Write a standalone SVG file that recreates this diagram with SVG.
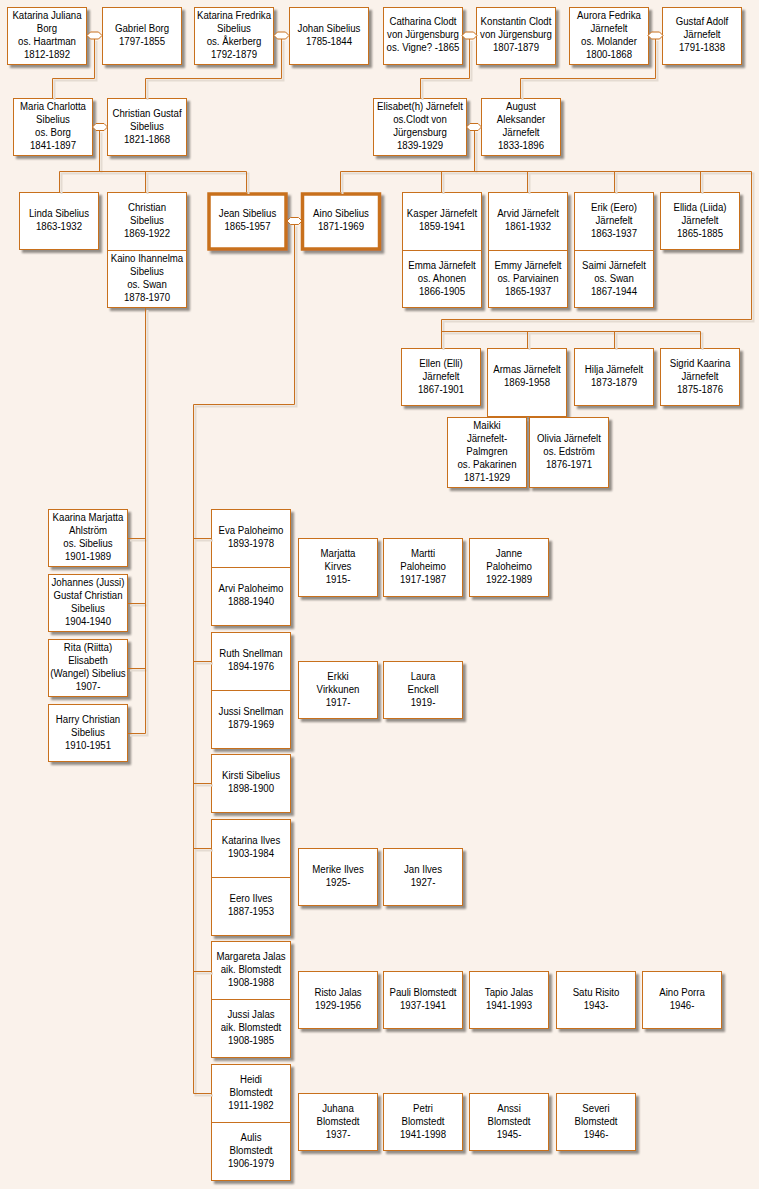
<svg xmlns="http://www.w3.org/2000/svg" width="759" height="1189" viewBox="0 0 759 1189">
<defs>
<style>
.bg{fill:#FAF2EB}
.bx{fill:#fff;stroke:#C8701E;stroke-width:1;filter:url(#ds)}
.bt{fill:#fff;stroke:#C8701E;stroke-width:3.5;filter:url(#ds)}
.dv{fill:none;stroke:#C8701E;stroke-width:1}
.ln{fill:none;stroke:#C8701E;stroke-width:1}
.ls{fill:none;stroke:#E4DBD2;stroke-width:2}
.hx{fill:#fff;stroke:#C8701E;stroke-width:1}
text{font-family:"Liberation Sans",Arial,sans-serif;font-size:11.5px;fill:#000;text-anchor:middle}
</style>
<filter id="ds" x="-10%" y="-10%" width="130%" height="130%">
<feDropShadow dx="3" dy="3" stdDeviation="0.8" flood-color="#6f6a65" flood-opacity="0.75"/>
</filter>
<path id="hex" d="M-7.5,0 L-4,-3.5 L4,-3.5 L7.5,0 L4,3.5 L-4,3.5 Z"/>
</defs>
<rect class="bg" x="0" y="0" width="759" height="1189"/>

<g id="nodes">
<!-- Row 1 -->
<g id="n-katarina-juliana"><rect class="bx" x="7.5" y="7.5" width="79" height="57"/>
<g transform="matrix(.84 0 0 1 47 0)"><text y="19">Katarina Juliana</text><text y="32">Borg</text><text y="45">os. Haartman</text><text y="58">1812-1892</text></g></g>
<g id="n-gabriel-borg"><rect class="bx" x="102.5" y="7.5" width="79" height="57"/>
<g transform="matrix(.84 0 0 1 142 0)"><text y="32">Gabriel Borg</text><text y="45">1797-1855</text></g></g>
<g id="n-katarina-fredrika"><rect class="bx" x="194.5" y="7.5" width="79" height="57"/>
<g transform="matrix(.84 0 0 1 234 0)"><text y="19">Katarina Fredrika</text><text y="32">Sibelius</text><text y="45">os. Åkerberg</text><text y="58">1792-1879</text></g></g>
<g id="n-johan-sibelius"><rect class="bx" x="289.5" y="7.5" width="79" height="57"/>
<g transform="matrix(.84 0 0 1 329 0)"><text y="32">Johan  Sibelius</text><text y="45">1785-1844</text></g></g>
<g id="n-catharina-clodt"><rect class="bx" x="383.5" y="7.5" width="79" height="57"/>
<g transform="matrix(.84 0 0 1 423 0)"><text y="25.5">Catharina Clodt</text><text y="38.5">von Jürgensburg</text><text y="51.5">os. Vigne? -1865</text></g></g>
<g id="n-konstantin-clodt"><rect class="bx" x="476.5" y="7.5" width="79" height="57"/>
<g transform="matrix(.84 0 0 1 516 0)"><text y="25.5">Konstantin Clodt</text><text y="38.5">von Jürgensburg</text><text y="51.5">1807-1879</text></g></g>
<g id="n-aurora-jarnefelt"><rect class="bx" x="569.5" y="7.5" width="79" height="57"/>
<g transform="matrix(.84 0 0 1 609 0)"><text y="19">Aurora Fedrika</text><text y="32">Järnefelt</text><text y="45">os. Molander</text><text y="58">1800-1868</text></g></g>
<g id="n-gustaf-jarnefelt"><rect class="bx" x="662.5" y="7.5" width="79" height="57"/>
<g transform="matrix(.84 0 0 1 702 0)"><text y="25.5">Gustaf Adolf</text><text y="38.5">Järnefelt</text><text y="51.5">1791-1838</text></g></g>

<!-- Row 2 -->
<g id="n-maria-charlotta"><rect class="bx" x="13.5" y="98.5" width="79" height="57"/>
<g transform="matrix(.84 0 0 1 53 0)"><text y="110.5">Maria Charlotta</text><text y="123.5">Sibelius</text><text y="136.5">os. Borg</text><text y="149.5">1841-1897</text></g></g>
<g id="n-christian-gustaf"><rect class="bx" x="107.5" y="98.5" width="79" height="57"/>
<g transform="matrix(.84 0 0 1 147 0)"><text y="117">Christian Gustaf</text><text y="130">Sibelius</text><text y="143">1821-1868</text></g></g>
<g id="n-elisabeth"><rect class="bx" x="373.5" y="98.5" width="93" height="57"/>
<g transform="matrix(.84 0 0 1 420 0)"><text y="110.5">Elisabet(h) Järnefelt</text><text y="123.5">os.Clodt von</text><text y="136.5">Jürgensburg</text><text y="149.5">1839-1929</text></g></g>
<g id="n-august"><rect class="bx" x="481.5" y="98.5" width="79" height="57"/>
<g transform="matrix(.84 0 0 1 521 0)"><text y="110.5">August</text><text y="123.5">Aleksander</text><text y="136.5">Järnefelt</text><text y="149.5">1833-1896</text></g></g>

<!-- Row 3 -->
<g id="n-linda"><rect class="bx" x="19.5" y="192.5" width="79" height="57"/>
<g transform="matrix(.84 0 0 1 59 0)"><text y="217.5">Linda Sibelius</text><text y="230.5">1863-1932</text></g></g>
<g id="n-christian"><rect class="bx" x="107.5" y="192.5" width="79" height="115"/><path class="dv" d="M107.5,250.5H186.5"/>
<g transform="matrix(.84 0 0 1 147 0)"><text y="211">Christian</text><text y="224">Sibelius</text><text y="237">1869-1922</text>
<text y="262.5">Kaino Ihannelma</text><text y="275.5">Sibelius</text><text y="288.5">os. Swan</text><text y="301.5">1878-1970</text></g></g>
<g id="n-jean"><rect class="bt" x="209" y="194" width="77" height="55"/>
<g transform="matrix(.84 0 0 1 247.5 0)"><text y="217.5">Jean Sibelius</text><text y="230.5">1865-1957</text></g></g>
<g id="n-aino"><rect class="bt" x="302.5" y="194" width="77" height="55"/>
<g transform="matrix(.84 0 0 1 341 0)"><text y="217.5">Aino Sibelius</text><text y="230.5">1871-1969</text></g></g>
<g id="n-kasper"><rect class="bx" x="402.5" y="192.5" width="79" height="115"/><path class="dv" d="M402.5,250.5H481.5"/>
<g transform="matrix(.84 0 0 1 442 0)"><text y="217.5">Kasper Järnefelt</text><text y="230.5">1859-1941</text>
<text y="269">Emma Järnefelt</text><text y="282">os. Ahonen</text><text y="295">1866-1905</text></g></g>
<g id="n-arvid"><rect class="bx" x="488.5" y="192.5" width="79" height="115"/><path class="dv" d="M488.5,250.5H567.5"/>
<g transform="matrix(.84 0 0 1 528 0)"><text y="217.5">Arvid Järnefelt</text><text y="230.5">1861-1932</text>
<text y="269">Emmy Järnefelt</text><text y="282">os. Parviainen</text><text y="295">1865-1937</text></g></g>
<g id="n-erik"><rect class="bx" x="574.5" y="192.5" width="79" height="115"/><path class="dv" d="M574.5,250.5H653.5"/>
<g transform="matrix(.84 0 0 1 614 0)"><text y="211">Erik (Eero)</text><text y="224">Järnefelt</text><text y="237">1863-1937</text>
<text y="269">Saimi Järnefelt</text><text y="282">os. Swan</text><text y="295">1867-1944</text></g></g>
<g id="n-ellida"><rect class="bx" x="660.5" y="192.5" width="79" height="57"/>
<g transform="matrix(.84 0 0 1 700 0)"><text y="211">Ellida (Liida)</text><text y="224">Järnefelt</text><text y="237">1865-1885</text></g></g>

<!-- Row 4 -->
<g id="n-ellen"><rect class="bx" x="401.5" y="348.5" width="79" height="57"/>
<g transform="matrix(.84 0 0 1 441 0)"><text y="367">Ellen (Elli)</text><text y="380">Järnefelt</text><text y="393">1867-1901</text></g></g>
<g id="n-armas"><rect class="bx" x="487.5" y="348.5" width="79" height="68"/>
<g transform="matrix(.84 0 0 1 527 0)"><text y="373.5">Armas Järnefelt</text><text y="386.5">1869-1958</text></g></g>
<g id="n-hilja"><rect class="bx" x="574.5" y="348.5" width="79" height="57"/>
<g transform="matrix(.84 0 0 1 614 0)"><text y="373.5">Hilja Järnefelt</text><text y="386.5">1873-1879</text></g></g>
<g id="n-sigrid"><rect class="bx" x="660.5" y="348.5" width="79" height="57"/>
<g transform="matrix(.84 0 0 1 700 0)"><text y="367">Sigrid Kaarina</text><text y="380">Järnefelt</text><text y="393">1875-1876</text></g></g>
<g id="n-maikki"><rect class="bx" x="447.5" y="417.5" width="79" height="70"/>
<g transform="matrix(.84 0 0 1 487 0)"><text y="429.5">Maikki</text><text y="442.5">Järnefelt-</text><text y="455.5">Palmgren</text><text y="468.5">os. Pakarinen</text><text y="481.5">1871-1929</text></g></g>
<g id="n-olivia"><rect class="bx" x="529.5" y="417.5" width="79" height="70"/>
<g transform="matrix(.84 0 0 1 569 0)"><text y="442.5">Olivia Järnefelt</text><text y="455.5">os. Edström</text><text y="468.5">1876-1971</text></g></g>

<!-- Christian's children -->
<g id="n-kaarina"><rect class="bx" x="48.5" y="509.5" width="79" height="57"/>
<g transform="matrix(.84 0 0 1 88 0)"><text y="521.5">Kaarina Marjatta</text><text y="534.5">Ahlström</text><text y="547.5">os. Sibelius</text><text y="560.5">1901-1989</text></g></g>
<g id="n-johannes"><rect class="bx" x="48.5" y="574.5" width="79" height="57"/>
<g transform="matrix(.84 0 0 1 88 0)"><text y="586.5">Johannes (Jussi)</text><text y="599.5">Gustaf Christian</text><text y="612.5">Sibelius</text><text y="625.5">1904-1940</text></g></g>
<g id="n-rita"><rect class="bx" x="48.5" y="639.5" width="79" height="57"/>
<g transform="matrix(.84 0 0 1 88 0)"><text y="651.5">Rita (Riitta)</text><text y="664.5">Elisabeth</text><text y="677.5">(Wangel) Sibelius</text><text y="690.5">1907-</text></g></g>
<g id="n-harry"><rect class="bx" x="48.5" y="704.5" width="79" height="57"/>
<g transform="matrix(.84 0 0 1 88 0)"><text y="723">Harry Christian</text><text y="736">Sibelius</text><text y="749">1910-1951</text></g></g>

<!-- Jean's children -->
<g id="n-eva"><rect class="bx" x="211.5" y="509.5" width="79" height="116"/><path class="dv" d="M211.5,567.5H290.5"/>
<g transform="matrix(.84 0 0 1 251 0)"><text y="534.5">Eva Paloheimo</text><text y="547.5">1893-1978</text>
<text y="592.5">Arvi Paloheimo</text><text y="605.5">1888-1940</text></g></g>
<g id="n-ruth"><rect class="bx" x="211.5" y="632.5" width="79" height="116"/><path class="dv" d="M211.5,690.5H290.5"/>
<g transform="matrix(.84 0 0 1 251 0)"><text y="657.5">Ruth Snellman</text><text y="670.5">1894-1976</text>
<text y="715.5">Jussi Snellman</text><text y="728.5">1879-1969</text></g></g>
<g id="n-kirsti"><rect class="bx" x="211.5" y="754.5" width="79" height="58"/>
<g transform="matrix(.84 0 0 1 251 0)"><text y="779.5">Kirsti Sibelius</text><text y="792.5">1898-1900</text></g></g>
<g id="n-katarina-ilves"><rect class="bx" x="211.5" y="819.5" width="79" height="116"/><path class="dv" d="M211.5,877.5H290.5"/>
<g transform="matrix(.84 0 0 1 251 0)"><text y="844.5">Katarina Ilves</text><text y="857.5">1903-1984</text>
<text y="902.5">Eero Ilves</text><text y="915.5">1887-1953</text></g></g>
<g id="n-margareta"><rect class="bx" x="211.5" y="941.5" width="79" height="116"/><path class="dv" d="M211.5,999.5H290.5"/>
<g transform="matrix(.84 0 0 1 251 0)"><text y="960">Margareta Jalas</text><text y="973">aik. Blomstedt</text><text y="986">1908-1988</text>
<text y="1018">Jussi Jalas</text><text y="1031">aik. Blomstedt</text><text y="1044">1908-1985</text></g></g>
<g id="n-heidi"><rect class="bx" x="211.5" y="1064.5" width="79" height="116"/><path class="dv" d="M211.5,1122.5H290.5"/>
<g transform="matrix(.84 0 0 1 251 0)"><text y="1083">Heidi</text><text y="1096">Blomstedt</text><text y="1109">1911-1982</text>
<text y="1141">Aulis</text><text y="1154">Blomstedt</text><text y="1167">1906-1979</text></g></g>

<!-- Grandchildren -->
<g id="n-marjatta"><rect class="bx" x="298.5" y="538.5" width="79" height="58"/>
<g transform="matrix(.84 0 0 1 338 0)"><text y="557">Marjatta</text><text y="570">Kirves</text><text y="583">1915-</text></g></g>
<g id="n-martti"><rect class="bx" x="383.5" y="538.5" width="79" height="58"/>
<g transform="matrix(.84 0 0 1 423 0)"><text y="557">Martti</text><text y="570">Paloheimo</text><text y="583">1917-1987</text></g></g>
<g id="n-janne"><rect class="bx" x="469.5" y="538.5" width="79" height="58"/>
<g transform="matrix(.84 0 0 1 509 0)"><text y="557">Janne</text><text y="570">Paloheimo</text><text y="583">1922-1989</text></g></g>
<g id="n-erkki"><rect class="bx" x="298.5" y="661.5" width="79" height="57"/>
<g transform="matrix(.84 0 0 1 338 0)"><text y="680">Erkki</text><text y="693">Virkkunen</text><text y="706">1917-</text></g></g>
<g id="n-laura"><rect class="bx" x="383.5" y="661.5" width="79" height="57"/>
<g transform="matrix(.84 0 0 1 423 0)"><text y="680">Laura</text><text y="693">Enckell</text><text y="706">1919-</text></g></g>
<g id="n-merike"><rect class="bx" x="298.5" y="848.5" width="79" height="57"/>
<g transform="matrix(.84 0 0 1 338 0)"><text y="873.5">Merike Ilves</text><text y="886.5">1925-</text></g></g>
<g id="n-jan"><rect class="bx" x="383.5" y="848.5" width="79" height="57"/>
<g transform="matrix(.84 0 0 1 423 0)"><text y="873.5">Jan Ilves</text><text y="886.5">1927-</text></g></g>
<g id="n-risto"><rect class="bx" x="298.5" y="971.5" width="79" height="57"/>
<g transform="matrix(.84 0 0 1 338 0)"><text y="996.5">Risto Jalas</text><text y="1009.5">1929-1956</text></g></g>
<g id="n-pauli"><rect class="bx" x="383.5" y="971.5" width="79" height="57"/>
<g transform="matrix(.84 0 0 1 423 0)"><text y="996.5">Pauli Blomstedt</text><text y="1009.5">1937-1941</text></g></g>
<g id="n-tapio"><rect class="bx" x="469.5" y="971.5" width="79" height="57"/>
<g transform="matrix(.84 0 0 1 509 0)"><text y="996.5">Tapio Jalas</text><text y="1009.5">1941-1993</text></g></g>
<g id="n-satu"><rect class="bx" x="556.5" y="971.5" width="79" height="57"/>
<g transform="matrix(.84 0 0 1 596 0)"><text y="996.5">Satu Risito</text><text y="1009.5">1943-</text></g></g>
<g id="n-aino-porra"><rect class="bx" x="642.5" y="971.5" width="79" height="57"/>
<g transform="matrix(.84 0 0 1 682 0)"><text y="996.5">Aino Porra</text><text y="1009.5">1946-</text></g></g>
<g id="n-juhana"><rect class="bx" x="298.5" y="1093.5" width="79" height="57"/>
<g transform="matrix(.84 0 0 1 338 0)"><text y="1112">Juhana</text><text y="1125">Blomstedt</text><text y="1138">1937-</text></g></g>
<g id="n-petri"><rect class="bx" x="383.5" y="1093.5" width="79" height="57"/>
<g transform="matrix(.84 0 0 1 423 0)"><text y="1112">Petri</text><text y="1125">Blomstedt</text><text y="1138">1941-1998</text></g></g>
<g id="n-anssi"><rect class="bx" x="469.5" y="1093.5" width="79" height="57"/>
<g transform="matrix(.84 0 0 1 509 0)"><text y="1112">Anssi</text><text y="1125">Blomstedt</text><text y="1138">1945-</text></g></g>
<g id="n-severi"><rect class="bx" x="556.5" y="1093.5" width="79" height="57"/>
<g transform="matrix(.84 0 0 1 596 0)"><text y="1112">Severi</text><text y="1125">Blomstedt</text><text y="1138">1946-</text></g></g>
</g>

<g id="connectors">
<g transform="translate(2,2)">
<path class="ls" d="M94.5,39V78.5H52.5V98M281.5,39V78.5H145.5V98M469.5,39V78.5H420.5V98M655.5,39V78.5H520.5V98"/>
<path class="ls" d="M99.5,130.5V171.5M59.5,192V171.5H246.5V192M145.5,171.5V192"/>
<path class="ls" d="M474.5,130.5V171.5M340.5,192V171.5H751.5V319.5H441.5V348M441.5,171.5V192M527.5,171.5V192M614.5,171.5V192M700.5,171.5V192M441.5,331.5H700.5V348M527.5,331.5V348M614.5,331.5V348"/>
<path class="ls" d="M294.5,224.5V404.5H193.5V1093.5H211M193.5,538.5H211M193.5,661.5H211M193.5,783.5H211M193.5,848.5H211M193.5,971.5H211"/>
<path class="ls" d="M145.5,308V733.5H128M145.5,538.5H128M145.5,603.5H128M145.5,668.5H128"/>
</g>
<path class="ln" d="M94.5,39V78.5H52.5V98M281.5,39V78.5H145.5V98M469.5,39V78.5H420.5V98M655.5,39V78.5H520.5V98"/>
<path class="ln" d="M99.5,130.5V171.5M59.5,192V171.5H246.5V192M145.5,171.5V192"/>
<path class="ln" d="M474.5,130.5V171.5M340.5,192V171.5H751.5V319.5H441.5V348M441.5,171.5V192M527.5,171.5V192M614.5,171.5V192M700.5,171.5V192M441.5,331.5H700.5V348M527.5,331.5V348M614.5,331.5V348"/>
<path class="ln" d="M294.5,224.5V404.5H193.5V1093.5H211M193.5,538.5H211M193.5,661.5H211M193.5,783.5H211M193.5,848.5H211M193.5,971.5H211"/>
<path class="ln" d="M145.5,308V733.5H128M145.5,538.5H128M145.5,603.5H128M145.5,668.5H128"/>
<use class="hx" href="#hex" x="94.5" y="35.5"/>
<use class="hx" href="#hex" x="281.5" y="35.5"/>
<use class="hx" href="#hex" x="469.5" y="35.5"/>
<use class="hx" href="#hex" x="655.5" y="35.5"/>
<use class="hx" href="#hex" x="100" y="127"/>
<use class="hx" href="#hex" x="474" y="127"/>
<use class="hx" href="#hex" x="294.5" y="221"/>
</g>
</svg>
